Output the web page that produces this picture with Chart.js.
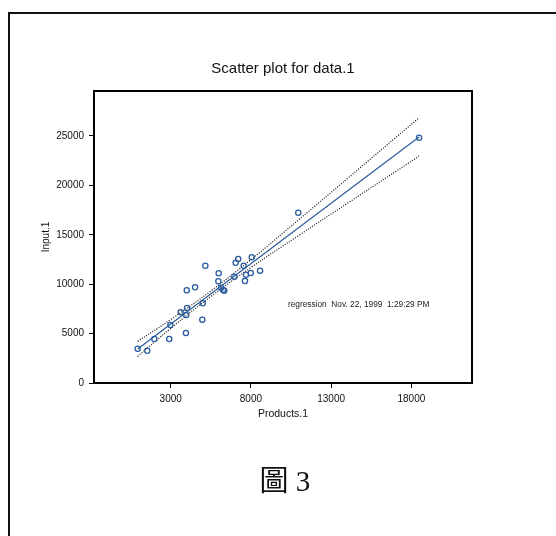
<!DOCTYPE html>
<html lang="zh-Hant">
<head>
    <meta charset="UTF-8">
    <title>Scatter plot for data.1</title>
    <script src="https://cdn.jsdelivr.net/npm/chart.js"></script>
    <style>
        html, body { margin: 0; padding: 0; background: #fff; }
        #page { position: relative; width: 556px; height: 536px; overflow: hidden; }
        /* frame round the figure: only left and top edges fall inside the page */
        #frame {
            position: absolute; left: 8px; top: 12px; width: 560px; height: 540px;
            border-left: 2px solid #111; border-top: 2px solid #111;
        }
        #plot { position: absolute; left: 0; top: 0; }
        #caption {
            position: absolute; left: 0; width: 570px; top: 457px; text-align: center;
            font-family: "Liberation Serif", "Noto Sans CJK TC", serif; font-size: 29px; color: #111;
        }
    </style>
</head>
<body>
<div id="page">
    <div id="frame"></div>
    <canvas id="plot" width="556" height="536"></canvas>
    <div id="caption">圖 3</div>
</div>

<script>
    // observations: Products.1 (x) vs Input.1 (y)
    const products = [940, 1540, 1980, 2910, 2980, 3950, 3620, 4020, 3970, 4000,
                      4520, 4970, 5000, 5160, 5990, 5970, 6140, 6260, 6340, 6970,
                      7050, 7210, 7550, 7690, 7630, 7990, 8050, 8570, 10950, 18480];
    const inputs   = [3470, 3270, 4450, 4450, 5870, 5060, 7150, 7590, 6880, 9380,
                      9690, 6410, 8070, 11870, 11100, 10290, 9640, 9440, 9340, 10760,
                      12170, 12550, 11870, 10960, 10320, 11130, 12720, 11370, 17230, 24820];

    // fitted line and the dotted bands round it
    const fitX   = [940, 18480];
    const fitY   = [3450, 24900];
    const bandX  = [940, 3000, 5500, 8000, 11000, 14000, 18480];
    const upperY = [4210, 6420, 9310, 12480, 16550, 20670, 26840];
    const lowerY = [2690, 5520, 8750, 11680, 14950, 18170, 22960];

    const xTicks = [3000, 8000, 13000, 18000];
    const yTicks = [0, 5000, 10000, 15000, 20000, 25000];
    const xRange = [-1780, 21780];
    const yRange = [0, 29550];

    const titleText = 'Scatter plot for data.1';
    const noteText = 'regression  Nov. 22, 1999  1:29:29 PM';
    const noteAt = { x: 10310, y: 7900 };

    const blue = '#2b5c9c';
    const sans = '"Liberation Sans", Arial, sans-serif';
    const pts = (xs, ys) => xs.map((x, i) => ({ x: x, y: ys[i] }));

    // box round the plotting area, title centred over it, and the stamp text
    const framePlugin = {
        id: 'frameAndNote',
        afterDraw(chart) {
            const { ctx, chartArea: a, scales } = chart;
            ctx.save();
            ctx.strokeStyle = '#000';
            ctx.lineWidth = 2;
            ctx.strokeRect(a.left, a.top, a.right - a.left, a.bottom - a.top);

            ctx.fillStyle = '#111';
            ctx.textAlign = 'center';
            ctx.textBaseline = 'middle';
            ctx.font = '15px ' + sans;
            ctx.fillText(titleText, (a.left + a.right) / 2, a.top - 22);

            ctx.fillStyle = '#222';
            ctx.font = '8.3px ' + sans;
            ctx.textAlign = 'left';
            ctx.fillText(noteText, scales.x.getPixelForValue(noteAt.x), scales.y.getPixelForValue(noteAt.y));
            ctx.restore();
        }
    };

    const dotted = {
        borderColor: '#111', borderWidth: 1.2, borderDash: [1, 1.5],
        pointRadius: 0, showLine: true, fill: false, tension: 0.4
    };

    new Chart(document.getElementById('plot'), {
        type: 'scatter',
        data: {
            datasets: [
                { data: pts(products, inputs), borderColor: blue, backgroundColor: 'rgba(0,0,0,0)',
                  pointRadius: 2.6, borderWidth: 1.3, pointStyle: 'circle' },
                { data: pts(fitX, fitY), borderColor: blue, borderWidth: 1.2, pointRadius: 0, showLine: true },
                Object.assign({ data: pts(bandX, upperY) }, dotted),
                Object.assign({ data: pts(bandX, lowerY) }, dotted)
            ]
        },
        options: {
            responsive: false,
            animation: false,
            layout: { padding: { left: 34, right: 84, top: 91, bottom: 113 } },
            plugins: {
                legend: { display: false },
                tooltip: { enabled: false },
                title: { display: false }
            },
            scales: {
                x: {
                    type: 'linear', min: xRange[0], max: xRange[1],
                    afterBuildTicks: s => { s.ticks = xTicks.map(v => ({ value: v })); },
                    afterFit: s => { s.height = 40; },
                    grid: { drawOnChartArea: false, drawTicks: true, tickLength: 5, color: '#000' },
                    border: { display: true, color: '#000', width: 2 },
                    ticks: { color: '#111', padding: 5, maxRotation: 0,
                             font: { family: sans, size: 10 },
                             callback: v => String(v) },
                    title: { display: true, text: 'Products.1', color: '#111',
                             font: { family: sans, size: 10.5 },
                             padding: { top: 0, bottom: 3 } }
                },
                y: {
                    type: 'linear', min: yRange[0], max: yRange[1],
                    afterBuildTicks: s => { s.ticks = yTicks.map(v => ({ value: v })); },
                    afterFit: s => { s.width = 60; },
                    grid: { drawOnChartArea: false, drawTicks: true, tickLength: 5, color: '#000' },
                    border: { display: true, color: '#000', width: 2 },
                    ticks: { color: '#111', padding: 5,
                             font: { family: sans, size: 10 },
                             callback: v => String(v) },
                    title: { display: true, text: 'Input.1', color: '#111',
                             font: { family: sans, size: 10 },
                             padding: { top: 6, bottom: 0 } }
                }
            }
        },
        plugins: [framePlugin]
    });
</script>
</body>
</html>
